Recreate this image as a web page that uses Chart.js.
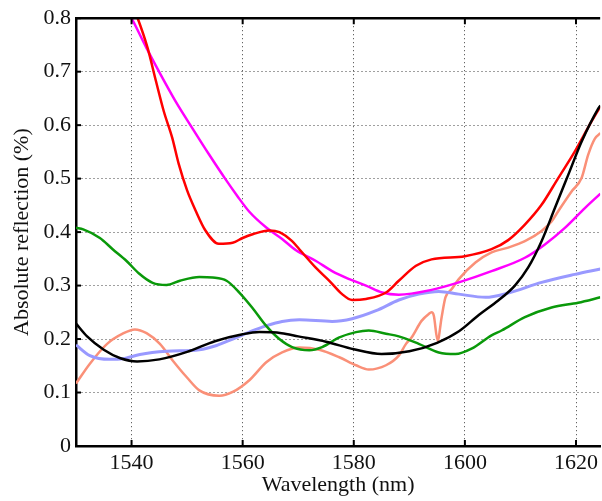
<!DOCTYPE html>
<html lang="en">
<head>
    <meta charset="UTF-8">
    <title>Absolute reflection</title>
    <script src="https://cdn.jsdelivr.net/npm/chart.js"></script>
    <style>
        body {
            margin: 0;
            background-color: #ffffff;
        }
        canvas {
            display: block;
        }
    </style>
</head>
<body>
    <canvas id="reflChart" width="602" height="501"></canvas>

    <script>
        // tick labels
        const xTicks = [1540, 1560, 1580, 1600, 1620];
        const yTicks = [0, 0.1, 0.2, 0.3, 0.4, 0.5, 0.6, 0.7, 0.8];

        // series (wavelength in nm, reflection in %)
        const blackWl = [1530, 1532, 1535, 1538, 1541, 1545, 1550, 1555, 1560, 1563, 1567, 1570, 1575, 1580, 1585, 1590, 1595, 1599, 1602.5, 1606, 1609, 1611.4, 1613.8, 1616.2, 1618.6, 1621, 1624, 1624.4];
        const blackR = [0.229, 0.205, 0.18, 0.164, 0.158, 0.162, 0.176, 0.196, 0.209, 0.213, 0.211, 0.205, 0.195, 0.181, 0.172, 0.177, 0.193, 0.215, 0.245, 0.272, 0.3, 0.334, 0.383, 0.445, 0.507, 0.569, 0.631, 0.637];

        const redWl = [1539.5, 1541.1, 1542.9, 1544.4, 1545.8, 1547.3, 1548.5, 1550, 1551.5, 1553.3, 1555.7, 1558.2, 1560, 1561.8, 1564.8, 1566.6, 1568.9, 1570.2, 1573.2, 1575.6, 1577.9, 1579.7, 1582.2, 1585.8, 1588.1, 1591.2, 1594, 1600, 1604.8, 1607.8, 1610.8, 1613.8, 1616.8, 1619.8, 1622.8, 1624.4];
        const redR = [0.84, 0.8, 0.744, 0.682, 0.626, 0.577, 0.527, 0.478, 0.441, 0.403, 0.378, 0.38, 0.389, 0.396, 0.403, 0.40, 0.383, 0.368, 0.333, 0.309, 0.284, 0.273, 0.275, 0.287, 0.309, 0.337, 0.349, 0.355, 0.368, 0.385, 0.414, 0.451, 0.501, 0.551, 0.607, 0.635];

        const magentaWl = [1539, 1540, 1542.7, 1544.9, 1547.9, 1550.9, 1553.9, 1556.9, 1559, 1561.2, 1564.3, 1567.1, 1569.6, 1573.2, 1576.1, 1579.2, 1582.2, 1585.1, 1588.1, 1594, 1598.9, 1604.8, 1610.8, 1614.4, 1618, 1621.6, 1624.4];
        const magentaR = [0.818, 0.8, 0.744, 0.701, 0.645, 0.595, 0.546, 0.499, 0.468, 0.438, 0.408, 0.387, 0.366, 0.346, 0.327, 0.312, 0.30, 0.287, 0.283, 0.292, 0.306, 0.327, 0.352, 0.377, 0.408, 0.445, 0.472];

        const greenWl = [1530, 1531.3, 1534.3, 1536.6, 1539.1, 1541.4, 1543.8, 1546.3, 1548.7, 1552.2, 1554.6, 1557.1, 1559.4, 1561.7, 1564.2, 1566.6, 1568.9, 1572, 1574.3, 1577.4, 1580.4, 1582.7, 1585.8, 1588.1, 1591.7, 1595.3, 1598.3, 1601.2, 1604.8, 1606.6, 1610.8, 1615.6, 1620.4, 1624.4];
        const greenR = [0.408, 0.405, 0.389, 0.368, 0.346, 0.322, 0.305, 0.301, 0.309, 0.316, 0.315, 0.309, 0.287, 0.259, 0.225, 0.20, 0.185, 0.179, 0.185, 0.203, 0.213, 0.216, 0.21, 0.205, 0.191, 0.175, 0.172, 0.182, 0.207, 0.216, 0.241, 0.259, 0.268, 0.278];

        const blueWl = [1530, 1532.5, 1536.1, 1538.4, 1541.5, 1546.3, 1552.2, 1555.3, 1558.2, 1561.2, 1564.3, 1567.1, 1570.2, 1576.1, 1579.7, 1584, 1588.1, 1591.7, 1595.3, 1598.9, 1603.7, 1607.8, 1613.8, 1619.8, 1624.4];
        const blueR = [0.189, 0.169, 0.162, 0.163, 0.171, 0.177, 0.18, 0.188, 0.2, 0.213, 0.225, 0.233, 0.236, 0.233, 0.238, 0.253, 0.273, 0.284, 0.289, 0.284, 0.278, 0.286, 0.306, 0.321, 0.331];

        const salmonWl = [1530, 1532.5, 1535.6, 1538.4, 1540.6, 1542.7, 1545.1, 1547.4, 1549.9, 1552.2, 1555.8, 1558.2, 1561.2, 1564.3, 1567.1, 1570.2, 1573.8, 1577.4, 1580.4, 1582.7, 1585.8, 1588.1, 1589.4, 1590.4, 1592.2, 1593.5, 1594, 1594.4, 1595.1, 1595.8, 1596.5, 1597.6, 1598.9, 1601.9, 1604.8, 1607.8, 1610.8, 1613.8, 1615.6, 1616.8, 1619.2, 1621, 1622.2, 1623.4, 1624.4];
        const salmonR = [0.117, 0.154, 0.191, 0.21, 0.218, 0.211, 0.191, 0.16, 0.129, 0.104, 0.094, 0.101, 0.123, 0.157, 0.175, 0.184, 0.18, 0.166, 0.151, 0.143, 0.151, 0.169, 0.191, 0.203, 0.234, 0.247, 0.25, 0.244, 0.197, 0.24, 0.278, 0.293, 0.312, 0.343, 0.362, 0.371, 0.383, 0.402, 0.42, 0.439, 0.476, 0.501, 0.545, 0.575, 0.585];

        function pts(xs, ys) {
            return xs.map((x, i) => ({ x: x, y: ys[i] }));
        }

        function line(xs, ys, color, width) {
            return {
                data: pts(xs, ys),
                borderColor: color,
                borderWidth: width,
                pointRadius: 0,
                fill: false,
                tension: 0.4,
                cubicInterpolationMode: 'monotone'
            };
        }

        // frame on top + inward ticks, like matlab
        const framePlugin = {
            id: 'frame',
            afterDraw(chart) {
                const { ctx, chartArea, scales } = chart;
                ctx.save();
                ctx.strokeStyle = '#000';
                ctx.lineWidth = 2.5;
                ctx.beginPath();
                ctx.moveTo(chartArea.left, chartArea.top);
                ctx.lineTo(chartArea.right, chartArea.top);
                ctx.stroke();
                ctx.lineWidth = 2;
                xTicks.forEach(v => {
                    const px = scales.x.getPixelForValue(v);
                    ctx.beginPath();
                    ctx.moveTo(px, chartArea.bottom);
                    ctx.lineTo(px, chartArea.bottom - 6);
                    ctx.moveTo(px, chartArea.top);
                    ctx.lineTo(px, chartArea.top + 6);
                    ctx.stroke();
                });
                yTicks.forEach(v => {
                    const py = scales.y.getPixelForValue(v);
                    ctx.beginPath();
                    ctx.moveTo(chartArea.left, py);
                    ctx.lineTo(chartArea.left + 5, py);
                    ctx.stroke();
                });
                ctx.restore();
            }
        };

        const serif = 'Liberation Serif, Times New Roman, serif';

        new Chart(document.getElementById('reflChart'), {
            type: 'line',
            data: {
                datasets: [
                    line(blackWl, blackR, '#000000', 2.5),
                    line(redWl, redR, '#ff0000', 2.5),
                    line(magentaWl, magentaR, '#ff00ff', 2.5),
                    line(greenWl, greenR, '#0a990a', 2.5),
                    line(blueWl, blueR, '#9999ff', 3),
                    line(salmonWl, salmonR, '#fa9078', 2.5)
                ]
            },
            options: {
                responsive: false,
                animation: false,
                layout: { padding: { top: 16, right: 0, left: 0, bottom: 0 } },
                plugins: {
                    legend: { display: false },
                    tooltip: { enabled: false }
                },
                scales: {
                    x: {
                        type: 'linear',
                        min: 1530,
                        max: 1624.35,
                        afterBuildTicks: s => { s.ticks = xTicks.map(v => ({ value: v })); },
                        afterFit: s => { s.height = 55; },
                        grid: {
                            color: 'rgba(0,0,0,0.75)',
                            lineWidth: 1,
                            drawTicks: false
                        },
                        border: { display: true, color: '#000', width: 2.5, dash: [1, 3] },
                        ticks: {
                            color: '#111',
                            padding: 4,
                            maxRotation: 0,
                            font: { family: serif, size: 22 },
                            callback: v => String(v)
                        },
                        title: {
                            display: true,
                            text: 'Wavelength (nm)',
                            color: '#111',
                            font: { family: serif, size: 22 },
                            padding: { top: 0, bottom: 3 }
                        }
                    },
                    y: {
                        min: 0,
                        max: 0.8,
                        afterBuildTicks: s => { s.ticks = yTicks.map(v => ({ value: v })); },
                        afterFit: s => { s.width = 76; },
                        grid: {
                            color: 'rgba(0,0,0,0.75)',
                            lineWidth: 1,
                            drawTicks: false
                        },
                        border: { display: true, color: '#000', width: 2.5, dash: [1, 3] },
                        ticks: {
                            color: '#111',
                            padding: 5,
                            font: { family: serif, size: 22 },
                            callback: v => (v === 0 ? '0' : v.toFixed(1))
                        },
                        title: {
                            display: true,
                            text: 'Absolute reflection (%)',
                            color: '#111',
                            font: { family: serif, size: 22 },
                            padding: { top: 9, bottom: 0 }
                        }
                    }
                }
            },
            plugins: [framePlugin]
        });
    </script>
</body>
</html>
